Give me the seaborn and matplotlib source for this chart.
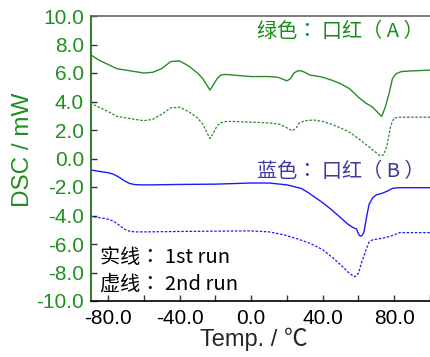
import matplotlib
matplotlib.use('Agg')
import matplotlib.pyplot as plt
import seaborn as sns
import pandas as pd
from matplotlib.ticker import MultipleLocator, FormatStrFormatter

# DSC curves
temp_a1 = [-90, -85, -80, -75, -70, -65, -60, -55, -50, -45, -40, -35, -30, -27, -25, -23, -21, -19,
           -17, -14, -10, -5, 0, 5, 10, 15, 18, 20, 22, 24, 26, 28, 30, 33, 36, 40, 45, 50, 55, 60,
           64, 68, 71, 73, 75, 77, 79, 81, 84, 90, 100]
dsc_a1 = [7.3, 6.9, 6.6, 6.3, 6.2, 6.1, 6.0, 6.05, 6.3, 6.8, 6.85, 6.5, 6.0, 5.6, 5.2, 4.8, 5.2, 5.6,
          5.85, 5.9, 5.85, 5.8, 5.75, 5.75, 5.75, 5.7, 5.55, 5.45, 5.6, 6.0, 6.15, 6.15, 6.05, 5.85,
          5.8, 5.7, 5.5, 5.25, 4.9, 4.3, 3.9, 3.6, 3.2, 2.95, 3.6, 4.5, 5.6, 5.95, 6.1, 6.15, 6.2]

temp_a2 = [-90, -85, -80, -75, -70, -65, -60, -55, -50, -45, -40, -35, -30, -27, -25, -23, -21, -19,
           -17, -14, -10, 0, 10, 16, 20, 23, 25, 27, 30, 35, 40, 45, 50, 55, 60, 65, 70, 72, 74, 76,
           78, 80, 83, 90, 100]
dsc_a2 = [3.9, 3.6, 3.3, 2.95, 2.85, 2.75, 2.65, 2.75, 3.1, 3.55, 3.6, 3.3, 2.85, 2.4, 1.9, 1.4, 1.8,
          2.3, 2.5, 2.6, 2.6, 2.55, 2.5, 2.4, 2.15, 1.95, 2.1, 2.5, 2.65, 2.7, 2.6, 2.4, 2.15, 1.85,
          1.4, 0.9, 0.4, 0.2, 0.25, 0.9, 2.3, 2.85, 2.9, 2.9, 2.9]

temp_b1 = [-90, -85, -80, -77, -74, -71, -68, -65, -62, -55, -40, -20, 0, 10, 20, 28, 32, 36, 40, 45,
           50, 54, 57, 59, 60, 61, 62, 63, 64, 65, 66, 68, 70, 73, 76, 79, 82, 90, 100]
dsc_b1 = [-0.8, -0.9, -1.0, -1.1, -1.3, -1.55, -1.75, -1.83, -1.85, -1.85, -1.82, -1.8, -1.72, -1.72,
          -1.85, -2.1, -2.4, -2.75, -3.1, -3.6, -4.15, -4.6, -4.85, -4.95, -5.3, -5.45, -5.4, -5.2,
          -4.5, -3.8, -3.2, -2.75, -2.55, -2.45, -2.3, -2.1, -2.05, -2.05, -2.05]

temp_b2 = [-90, -85, -80, -77, -74, -71, -68, -65, -60, -40, -20, 0, 10, 18, 25, 33, 40, 46, 50, 54,
           56, 58, 60, 62, 64, 66, 68, 71, 75, 78, 83, 90, 100]
dsc_b2 = [-4.05, -4.15, -4.25, -4.4, -4.65, -4.95, -5.1, -5.15, -5.15, -5.12, -5.1, -5.08, -5.15,
          -5.35, -5.6, -5.95, -6.4, -7.0, -7.45, -7.95, -8.15, -8.3, -8.05, -7.2, -6.5, -5.85, -5.7,
          -5.65, -5.55, -5.45, -5.2, -5.2, -5.2]

green = '#2a8a2a'
blue = '#1a1aff'
dashes = (0, (2.0, 1.3))

sns.set_style('ticks')
plt.rcParams['font.family'] = ['Liberation Sans', 'Noto Sans CJK SC', 'DejaVu Sans']
cjk = ['Noto Sans CJK TC', 'DejaVu Sans']

fig = plt.figure(figsize=(4.30, 3.57), dpi=100)
ax = fig.add_axes([91 / 430, 56 / 357, 339 / 430, 285 / 357])

curves = [(temp_a1, dsc_a1, green, '-', 1.0), (temp_a2, dsc_a2, green, dashes, 0.9),
          (temp_b1, dsc_b1, blue, '-', 1.0), (temp_b2, dsc_b2, blue, dashes, 0.9)]
for t, v, c, ls, w in curves:
    df = pd.DataFrame({'temp': t, 'dsc': v})
    sns.lineplot(data=df, x='temp', y='dsc', sort=False, estimator=None,
                 color=c, lw=w, linestyle=ls, ax=ax)

ax.set_xlim(-89.5, 100)
ax.set_ylim(-10, 10)
ax.xaxis.set_major_locator(MultipleLocator(40))
ax.xaxis.set_minor_locator(MultipleLocator(20))
ax.yaxis.set_major_locator(MultipleLocator(2))
ax.xaxis.set_major_formatter(FormatStrFormatter('%.1f'))
ax.yaxis.set_major_formatter(FormatStrFormatter('%.1f'))
ax.tick_params(axis='both', which='both', direction='in', length=4, width=1, color='#333333')
ax.tick_params(axis='y', labelsize=15, labelcolor='#1f8f1f', pad=5)
ax.tick_params(axis='x', labelsize=15, labelcolor='black', pad=6)

ax.spines['left'].set_color('#3a7a3a')
ax.spines['left'].set_linewidth(1.5)
ax.spines['bottom'].set_color('black')
ax.spines['bottom'].set_linewidth(1.2)
ax.spines['top'].set_color('#666666')
ax.spines['top'].set_linewidth(1.2)
ax.spines['right'].set_visible(False)

ax.set_xlabel('Temp. / ℃', fontsize=17)
ax.set_ylabel('DSC / mW', fontsize=17.5, color='#1f8f1f')
ax.xaxis.set_label_coords(0.481, -0.092)
ax.yaxis.set_label_coords(-0.168, 0.53)

ax.text(3.4, 8.88, '绿色： 口红（ A ）', color='#1a8a1a', fontsize=14.5, va='center', ha='left', family=cjk)
ax.text(3.4, -0.88, '蓝色： 口红（ B ）', color='#3b3b9e', fontsize=14.5, va='center', ha='left', family=cjk)
ax.text(-84.5, -6.98, '实线： 1st run', color='black', fontsize=14.5, va='center', ha='left', family=cjk)
ax.text(-84.5, -8.8, '虚线： 2nd run', color='black', fontsize=14.5, va='center', ha='left', family=cjk)

fig.savefig('out.png', dpi=100)
